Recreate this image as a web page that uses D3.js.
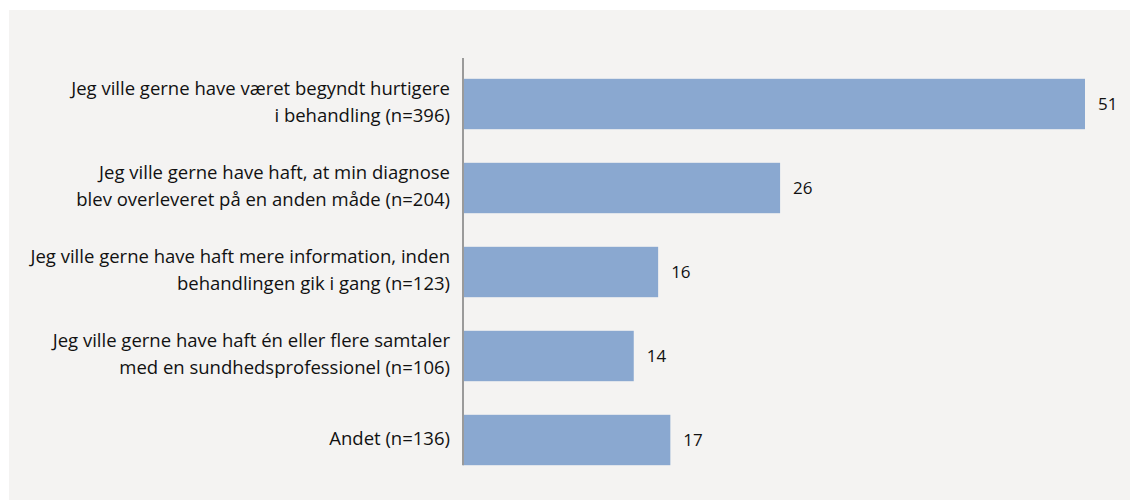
<!DOCTYPE html>
<html lang="da">
  <head>
    <meta charset="UTF-8" />
    <title>Ønsker til forløbet</title>
    <script src="https://d3js.org/d3.v7.min.js"></script>
    <style>
      html,
      body {
        margin: 0;
        padding: 0;
        background-color: #ffffff;
      }
      svg text {
        font-family: "Open Sans", "Noto Sans", sans-serif;
        fill: #111;
      }
    </style>
  </head>
  <body>
    <svg id="chart"></svg>
    <script>
      // Categories (each split into two display lines) and values in %
      const labelLines = [
        ["Jeg ville gerne have været begyndt hurtigere", "i behandling (n=396)"],
        ["Jeg ville gerne have haft, at min diagnose", "blev overleveret på en anden måde (n=204)"],
        ["Jeg ville gerne have haft mere information, inden", "behandlingen gik i gang (n=123)"],
        ["Jeg ville gerne have haft én eller flere samtaler", "med en sundhedsprofessionel (n=106)"],
        ["Andet (n=136)"],
      ];
      const values = [51, 26, 16, 14, 17];

      const W = 1130;
      const H = 500;
      const axisX = 463;

      const svg = d3.select("#chart").attr("width", W).attr("height", H);

      // Gray panel behind the chart
      svg
        .append("rect")
        .attr("x", 9)
        .attr("y", 10)
        .attr("width", W - 9)
        .attr("height", H - 10)
        .attr("fill", "#f4f3f2");

      const y = d3
        .scaleBand()
        .domain(d3.range(values.length))
        .range([62, 482])
        .paddingInner(0.4)
        .paddingOuter(0.2);

      const x = d3.scaleLinear().domain([0, 51]).range([axisX, 1085]);

      // Bars
      svg
        .selectAll(".bar")
        .data(values)
        .enter()
        .append("rect")
        .attr("class", "bar")
        .attr("x", x(0))
        .attr("y", (d, i) => y(i))
        .attr("width", (d) => x(d) - x(0))
        .attr("height", y.bandwidth())
        .attr("fill", "#8aa8d0");

      // Vertical axis line
      svg
        .append("line")
        .attr("x1", axisX)
        .attr("x2", axisX)
        .attr("y1", 58)
        .attr("y2", y(values.length - 1) + y.bandwidth())
        .attr("stroke", "#9a9a9a")
        .attr("stroke-width", 2);

      // Value labels
      svg
        .selectAll(".val")
        .data(values)
        .enter()
        .append("text")
        .attr("class", "val")
        .attr("x", (d) => x(d) + 13)
        .attr("y", (d, i) => y(i) + y.bandwidth() / 2)
        .attr("dy", "0.35em")
        .attr("font-size", "17px")
        .text((d) => d);

      // Category labels, right aligned to the axis
      const lineH = 27;
      const cat = svg
        .selectAll(".cat")
        .data(labelLines)
        .enter()
        .append("text")
        .attr("class", "cat")
        .attr("text-anchor", "end")
        .attr("font-size", "18.5px")
        .attr("letter-spacing", "0px")
        .attr("y", (d, i) => y(i) + y.bandwidth() / 2);

      cat
        .selectAll("tspan")
        .data((d) => d.map((t, k) => ({ t, k, n: d.length })))
        .enter()
        .append("tspan")
        .attr("x", 450)
        .attr("dy", (d) =>
          d.k === 0 ? (-(d.n - 1) * lineH) / 2 + 4.5 + "px" : lineH + "px"
        )
        .text((d) => d.t);
    </script>
  </body>
</html>
